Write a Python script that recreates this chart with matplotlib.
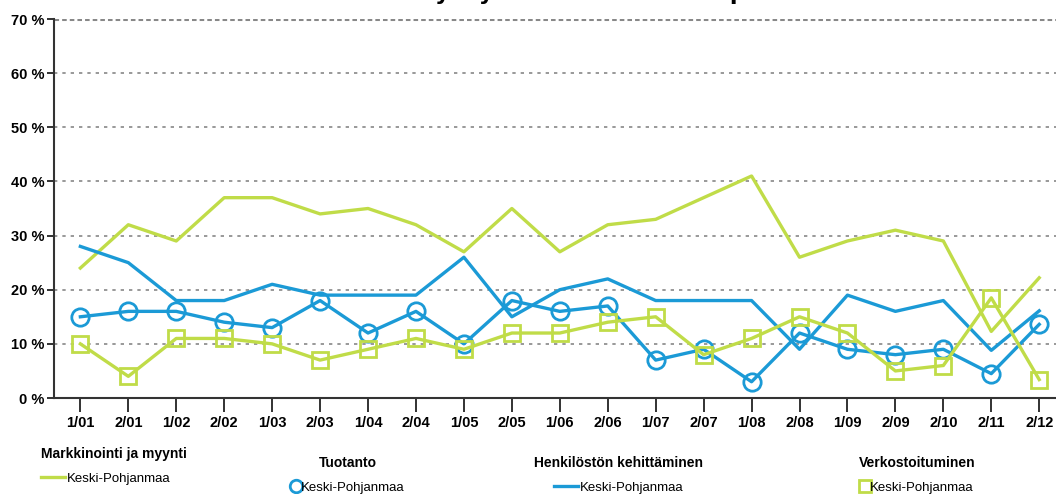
import matplotlib
matplotlib.use("Agg")
import matplotlib.pyplot as plt
from matplotlib.lines import Line2D

periods = ["1/01", "2/01", "1/02", "2/02", "1/03", "2/03", "1/04", "2/04", "1/05", "2/05", "1/06",
           "2/06", "1/07", "2/07", "1/08", "2/08", "1/09", "2/09", "2/10", "2/11", "2/12"]
markkinointi = [24, 32, 29, 37, 37, 34, 35, 32, 27, 35, 27, 32, 33, 37, 41, 26, 29, 31, 29, 12.3, 22.2]
tuotanto = [15, 16, 16, 14, 13, 18, 12, 16, 10, 18, 16, 17, 7, 9, 3, 12, 9, 8, 9, 4.5, 13.6]
henkilosto = [28, 25, 18, 18, 21, 19, 19, 19, 26, 15, 20, 22, 18, 18, 18, 9, 19, 16, 18, 8.8, 16.1]
verkosto = [10, 4, 11, 11, 10, 7, 9, 11, 9, 12, 12, 14, 15, 8, 11, 15, 12, 5, 6, 18.5, 3.4]
yticks = [0, 10, 20, 30, 40, 50, 60, 70]
region = "Keski-Pohjanmaa"
titles = ["Markkinointi ja myynti", "Tuotanto", "Henkilöstön kehittäminen", "Verkostoituminen"]

GREEN = "#c0dc48"
BLUE = "#1b9ad6"
FONT = ["Liberation Sans", "DejaVu Sans"]
plt.rcParams["font.family"] = FONT

fig = plt.figure(figsize=(10.56, 4.94), dpi=100)
ax = fig.add_axes([54 / 1056, 1 - 398 / 494, 1 - 54 / 1056, (398 - 19) / 494])

x = list(range(len(periods)))
lw = 2.4
ax.plot(x, markkinointi, color=GREEN, lw=lw, zorder=3)
ax.plot(x, henkilosto, color=BLUE, lw=lw, zorder=3)
ax.plot(x, tuotanto, color=BLUE, lw=lw, marker="o", ms=12.5, mfc="none", mec=BLUE, mew=2, zorder=4)
ax.plot(x, verkosto, color=GREEN, lw=lw, marker="s", ms=11, mfc="none", mec=GREEN, mew=2, zorder=4)

ax.set_xlim(-0.55, len(periods) - 0.65)
ax.set_ylim(0, 70)
ax.set_yticks(yticks)
ax.set_yticklabels([f"{v} %" for v in yticks], fontweight="bold", fontsize=10.5)
ax.set_xticks(x)
ax.set_xticklabels(periods, fontweight="bold", fontsize=10.5)
ax.tick_params(axis="x", length=10, width=1.3, pad=3, color="#222222")
ax.tick_params(axis="y", length=5, width=1.3, pad=2, color="#222222")
for yv in yticks[1:]:
    ax.axhline(yv, color="#888888", lw=1.2 if yv < 70 else 2.2,
               ls=(0, (2, 3)) if yv < 70 else (0, (1.5, 1)), zorder=1)
ax.spines["top"].set_visible(False)
ax.spines["right"].set_visible(False)
ax.spines["left"].set_linewidth(1.5)
ax.spines["bottom"].set_linewidth(1.5)
ax.spines["left"].set_color("#333333")
ax.spines["bottom"].set_color("#333333")

fig.text(0.535, 1 + 6 / 494, "Koetut yrityksen kehittämistarpeet", ha="center", va="center",
         fontsize=16, fontweight="bold", family=["DejaVu Sans"])

handles = [
    Line2D([], [], color=GREEN, lw=2.4),
    Line2D([], [], color=BLUE, lw=0, marker="o", ms=9, mfc="none", mec=BLUE, mew=2),
    Line2D([], [], color=BLUE, lw=2.4),
    Line2D([], [], color=GREEN, lw=0, marker="s", ms=9, mfc="none", mec=GREEN, mew=2),
]
positions = [(32 / 1056, 1 - 438 / 494), (283 / 1056, 1 - 447 / 494),
             (525 / 1056, 1 - 447 / 494), (850 / 1056, 1 - 447 / 494)]
for h, t, pos, hl in zip(handles, titles, positions, [1.8, 0.5, 1.8, 0.5]):
    leg = fig.legend([h], [region], loc="upper left", bbox_to_anchor=pos, frameon=False,
                     title=t, title_fontproperties={"weight": "bold", "size": 10, "family": FONT},
                     prop={"size": 9.5, "family": FONT}, handlelength=hl, handletextpad=0.15,
                     borderpad=0.2, labelspacing=0.45)
    leg._legend_box.align = "left" if t.startswith("Markkinointi") else "center"
    leg._legend_box.sep = 8

fig.savefig("out.png", dpi=100)
